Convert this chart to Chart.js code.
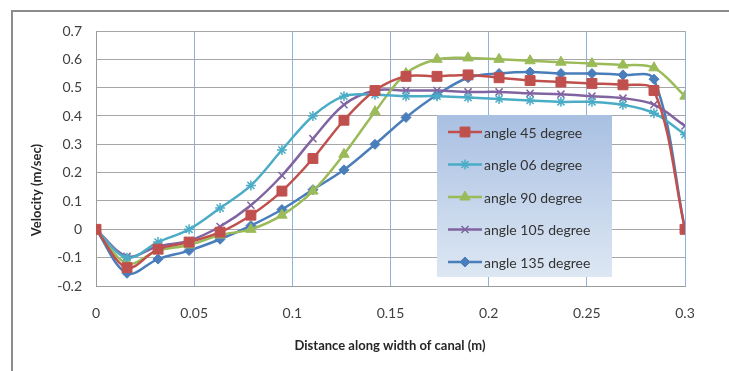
<!DOCTYPE html>
<html>
<head>
<meta charset="utf-8">
<script src="https://cdn.jsdelivr.net/npm/chart.js@4.4.1/dist/chart.umd.min.js"></script>
<style>
  html, body { margin: 0; padding: 0; background: #fff; }
  canvas { display: block; }
</style>
</head>
<body>
<canvas id="myChart" width="729" height="371"></canvas>
<script>
// distance along the canal width (m)
var distances = [0, 0.0158, 0.0316, 0.0474, 0.0632, 0.0789, 0.0947, 0.1105, 0.1263, 0.1421,
                 0.1579, 0.1737, 0.1895, 0.2053, 0.2211, 0.2368, 0.2526, 0.2684, 0.2842, 0.3]

// velocity (m/sec) for each angle
var angle45  = [0, -0.135, -0.07, -0.045, -0.01, 0.05, 0.135, 0.25, 0.385, 0.49,
                0.54, 0.54, 0.545, 0.535, 0.525, 0.52, 0.515, 0.51, 0.49, 0]
var angle06  = [0, -0.1, -0.045, 0.0, 0.075, 0.155, 0.28, 0.40, 0.47, 0.475,
                0.47, 0.47, 0.465, 0.46, 0.455, 0.45, 0.45, 0.44, 0.41, 0.335]
var angle90  = [0, -0.12, -0.075, -0.055, -0.02, 0.0, 0.05, 0.135, 0.265, 0.415,
                0.55, 0.60, 0.605, 0.60, 0.595, 0.59, 0.585, 0.58, 0.57, 0.47]
var angle105 = [0, -0.095, -0.06, -0.04, 0.01, 0.085, 0.19, 0.32, 0.44, 0.49,
                0.49, 0.49, 0.485, 0.485, 0.48, 0.477, 0.47, 0.463, 0.44, 0.365]
var angle135 = [0, -0.155, -0.105, -0.075, -0.035, 0.013, 0.07, 0.14, 0.21, 0.30,
                0.395, 0.475, 0.535, 0.55, 0.555, 0.55, 0.55, 0.545, 0.53, 0]

var seriesNames = ['angle 45 degree', 'angle 06 degree', 'angle 90 degree', 'angle 105 degree', 'angle 135 degree']
var xTickLabels = ['0', '0.05', '0.1', '0.15', '0.2', '0.25', '0.3']
var yTickLabels = ['-0.2', '-0.1', '0', '0.1', '0.2', '0.3', '0.4', '0.5', '0.6', '0.7']

function pts(values) {
    return values.map(function (v, i) { return { x: distances[i], y: v } })
}

function series(label, values, color, style, radius) {
    return {
        label: label,
        data: pts(values),
        borderColor: color,
        backgroundColor: color,
        pointBackgroundColor: color,
        pointBorderColor: color,
        pointStyle: style,
        pointRadius: radius,
        pointBorderWidth: (style === 'star' || style === 'crossRot') ? 1.5 : 1,
        borderWidth: 2.5,
        tension: 0.35
    }
}

// outer frame + white background
var framePlugin = {
    id: 'frame',
    beforeDraw: function (chart) {
        var ctx = chart.ctx
        ctx.save()
        ctx.fillStyle = '#fff'
        ctx.fillRect(0, 0, chart.width, chart.height)
        ctx.strokeStyle = '#8c8c8c'
        ctx.lineWidth = 2
        ctx.beginPath()
        ctx.moveTo(12, chart.height)
        ctx.lineTo(12, 11)
        ctx.lineTo(chart.width, 11)
        ctx.stroke()
        ctx.restore()
    }
}

// axis titles
var titlesPlugin = {
    id: 'axisTitles',
    afterDraw: function (chart) {
        var ctx = chart.ctx
        ctx.save()
        ctx.fillStyle = '#262626'
        ctx.font = 'bold 13px Lato'
        ctx.textAlign = 'center'
        ctx.textBaseline = 'middle'
        ctx.fillText('Distance along width of canal (m)', 390, 346)
        ctx.translate(37, 190)
        ctx.rotate(-Math.PI / 2)
        ctx.fillText('Velocity (m/sec)', 0, 0)
        ctx.restore()
    }
}

// legend box inside the plot
var legendPlugin = {
    id: 'boxLegend',
    afterDraw: function (chart) {
        var ctx = chart.ctx
        var bx = 437, by = 115, bw = 175, bh = 162
        ctx.save()
        var grad = ctx.createLinearGradient(0, by, 0, by + bh)
        grad.addColorStop(0, '#a9c0e2')
        grad.addColorStop(1, '#dde7f3')
        ctx.fillStyle = grad
        ctx.fillRect(bx, by, bw, bh)
        ctx.font = '14px Lato'
        ctx.textBaseline = 'middle'
        ctx.textAlign = 'left'
        chart.data.datasets.forEach(function (ds, i) {
            var y = 132 + i * 32.5
            ctx.strokeStyle = ds.borderColor
            ctx.lineWidth = 2.5
            ctx.beginPath()
            ctx.moveTo(448, y)
            ctx.lineTo(482, y)
            ctx.stroke()
            ctx.fillStyle = ds.borderColor
            ctx.lineWidth = ds.pointBorderWidth
            Chart.helpers.drawPoint(ctx, {
                pointStyle: ds.pointStyle,
                radius: ds.pointRadius,
                rotation: 0,
                borderWidth: ds.pointBorderWidth
            }, 465, y)
            ctx.fillStyle = '#333'
            ctx.fillText(ds.label, 484, y + 1)
        })
        ctx.restore()
    }
}

var ctx = document.getElementById('myChart').getContext('2d')
var myChart = new Chart(ctx, {
    type: 'line',
    data: {
        datasets: [
            series(seriesNames[0], angle45, '#c0504d', 'rect', 7),
            series(seriesNames[1], angle06, '#4bacc6', 'star', 5),
            series(seriesNames[2], angle90, '#9bbb59', 'triangle', 6),
            series(seriesNames[3], angle105, '#8064a2', 'crossRot', 5),
            series(seriesNames[4], angle135, '#4a7ebb', 'rectRot', 5)
        ]
    },
    options: {
        responsive: false,
        animation: false,
        layout: {
            padding: { left: 0, right: 44, top: 31, bottom: 0 }
        },
        plugins: {
            legend: { display: false },
            tooltip: { enabled: false }
        },
        scales: {
            x: {
                type: 'linear',
                min: 0,
                max: 0.3,
                afterFit: function (scale) { scale.height = 85 },
                afterBuildTicks: function (scale) {
                    scale.ticks = xTickLabels.map(function (t) { return { value: parseFloat(t) } })
                },
                ticks: {
                    padding: 19,
                    color: '#404040',
                    font: { family: 'Lato', size: 14 },
                    callback: function (v, i) { return xTickLabels[i] }
                },
                grid: {
                    drawTicks: false,
                    color: '#8eb0dc',
                    lineWidth: 1
                },
                border: { color: '#9a9a9a', width: 1 }
            },
            y: {
                min: -0.2,
                max: 0.7,
                afterFit: function (scale) { scale.width = 96 },
                afterBuildTicks: function (scale) {
                    scale.ticks = yTickLabels.map(function (t) { return { value: parseFloat(t) } })
                },
                ticks: {
                    padding: 14,
                    color: '#404040',
                    font: { family: 'Lato', size: 14 },
                    callback: function (v, i) { return yTickLabels[i] }
                },
                grid: {
                    drawTicks: false,
                    color: '#a6a6a6',
                    lineWidth: 1
                },
                border: { color: '#9a9a9a', width: 1 }
            }
        }
    },
    plugins: [framePlugin, titlesPlugin, legendPlugin]
})
</script>
</body>
</html>
